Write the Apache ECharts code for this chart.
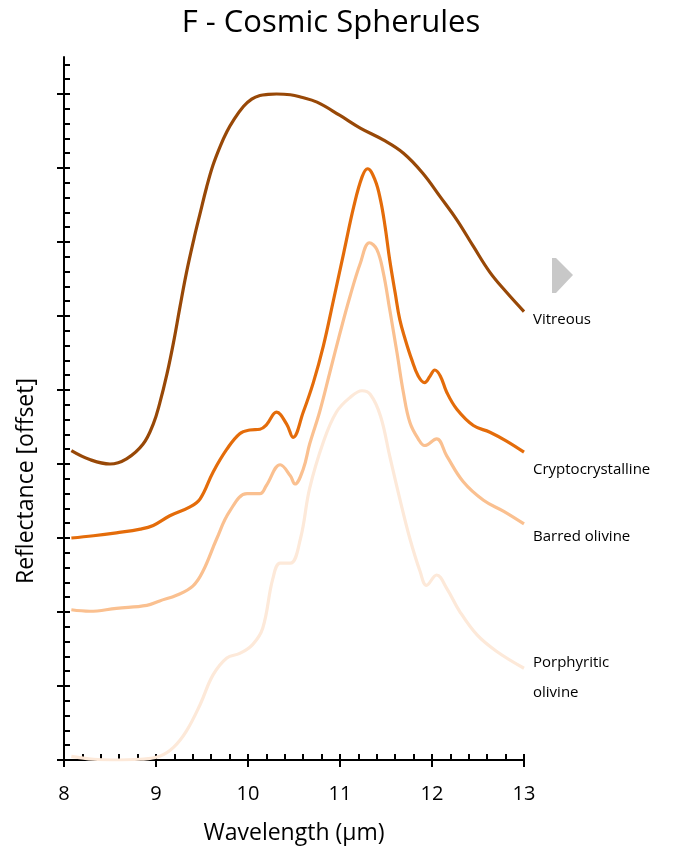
<!DOCTYPE html>
<html>
<head>
<meta charset="utf-8">
<script src="https://cdn.jsdelivr.net/npm/echarts@6/dist/echarts.min.js"></script>
<style>
html,body{margin:0;padding:0;background:#fff;}
#chart{width:697px;height:850px;}
</style>
</head>
<body>
<div id="chart"></div>
<script>
// Wavelength (µm) vs reflectance (offset) for each spherule type
const vitreous = [[8.08,4.18],[8.28,4.06],[8.5,4.0],[8.68,4.07],[8.86,4.27],[8.97,4.54],[9.04,4.82],[9.12,5.22],[9.19,5.64],[9.26,6.12],[9.33,6.58],[9.41,7.03],[9.48,7.39],[9.55,7.74],[9.62,8.04],[9.7,8.3],[9.77,8.49],[9.84,8.64],[9.95,8.83],[10.04,8.93],[10.13,8.98],[10.22,8.995],[10.31,9.0],[10.46,8.99],[10.57,8.96],[10.75,8.89],[11.0,8.71],[11.22,8.54],[11.47,8.38],[11.69,8.2],[11.9,7.93],[12.09,7.61],[12.27,7.3],[12.45,6.94],[12.63,6.59],[12.81,6.32],[13.0,6.06]];
const cryptocrystalline = [[8.08,3.0],[8.32,3.03],[8.57,3.07],[8.83,3.12],[8.97,3.17],[9.15,3.3],[9.37,3.42],[9.48,3.53],[9.62,3.89],[9.77,4.2],[9.91,4.41],[10.02,4.46],[10.13,4.47],[10.2,4.53],[10.31,4.7],[10.42,4.54],[10.49,4.36],[10.6,4.7],[10.71,5.1],[10.82,5.6],[10.93,6.22],[11.04,6.85],[11.15,7.48],[11.24,7.88],[11.3,7.99],[11.38,7.84],[11.44,7.57],[11.49,7.21],[11.54,6.76],[11.6,6.31],[11.65,5.95],[11.71,5.68],[11.78,5.41],[11.85,5.19],[11.92,5.1],[11.98,5.19],[12.03,5.27],[12.09,5.19],[12.16,4.97],[12.27,4.74],[12.45,4.52],[12.63,4.43],[12.81,4.31],[13.0,4.16]];
const barredOlivine = [[8.08,2.03],[8.28,2.01],[8.57,2.05],[8.9,2.09],[9.04,2.15],[9.23,2.23],[9.4,2.35],[9.51,2.55],[9.66,2.99],[9.8,3.36],[9.99,3.6],[10.13,3.6],[10.2,3.71],[10.35,3.99],[10.46,3.84],[10.51,3.73],[10.6,3.93],[10.67,4.27],[10.78,4.71],[10.89,5.24],[11.0,5.77],[11.11,6.27],[11.22,6.71],[11.32,6.99],[11.4,6.9],[11.47,6.59],[11.54,6.09],[11.62,5.5],[11.69,4.96],[11.76,4.56],[11.85,4.34],[11.92,4.25],[12.05,4.34],[12.16,4.11],[12.34,3.76],[12.56,3.51],[12.78,3.36],[13.0,3.19]];
const porphyriticOlivine = [[8.08,0.05],[8.32,0.01],[8.53,0.0],[8.83,0.01],[9.04,0.05],[9.19,0.17],[9.33,0.39],[9.48,0.75],[9.62,1.15],[9.77,1.38],[9.91,1.44],[10.05,1.56],[10.16,1.78],[10.27,2.45],[10.35,2.66],[10.46,2.66],[10.57,2.99],[10.67,3.67],[10.82,4.3],[10.96,4.7],[11.11,4.9],[11.24,4.99],[11.33,4.94],[11.44,4.65],[11.54,4.11],[11.65,3.53],[11.76,2.99],[11.87,2.55],[11.94,2.36],[12.05,2.5],[12.16,2.32],[12.3,2.01],[12.49,1.69],[12.7,1.47],[13.0,1.24]];

const seriesNames = ['Vitreous','Cryptocrystalline','Barred olivine','Porphyritic olivine'];
const seriesLabels = ['Vitreous','Cryptocrystalline','Barred olivine','Porphyritic\nolivine'];
const seriesColors = ['#984807','#E46C0A','#FAC090','#FDE9D9'];
const xTicks = [8,9,10,11,12,13];
const yMajorTicks = [0,1,2,3,4,5,6,7,8,9];
const yMinorTicks = [0,0.2,0.4,0.6,0.8,1,1.2,1.4,1.6,1.8,2,2.2,2.4,2.6,2.8,3,3.2,3.4,3.6,3.8,4,4.2,4.4,4.6,4.8,5,5.2,5.4,5.6,5.8,6,6.2,6.4,6.6,6.8,7,7.2,7.4,7.6,7.8,8,8.2,8.4,8.6,8.8,9,9.2,9.4];

const FONT = '"Open Sans", "Noto Sans", sans-serif';
const allData = [vitreous, cryptocrystalline, barredOlivine, porphyriticOlivine];
const chart = echarts.init(document.getElementById('chart'));

const option = {
  animation:false,
  backgroundColor:'#fff',
  title:{text:'F - Cosmic Spherules', left:326, top:3, textAlign:'center',
    textStyle:{fontFamily:FONT, fontSize:31, fontWeight:'normal', color:'#000'}},
  grid:{left:64, right:173, top:57, bottom:88, containLabel:false},
  xAxis:[
    {type:'value', min:xTicks[0], max:xTicks[xTicks.length-1], interval:1,
     axisLine:{lineStyle:{color:'#000', width:2}},
     axisTick:{show:true, inside:false, length:7, lineStyle:{color:'#000', width:2}},
     axisLabel:{show:true, margin:24, fontFamily:FONT, fontSize:20, color:'#000'},
     splitLine:{show:false},
     name:'Wavelength (µm)', nameLocation:'middle', nameGap:62,
     nameTextStyle:{fontFamily:FONT, fontSize:23, color:'#000'}},
    {type:'value', min:xTicks[0], max:xTicks[xTicks.length-1], interval:1, position:'bottom',
     axisLine:{show:false}, axisTick:{show:true, inside:true, length:6, lineStyle:{color:'#000', width:2}},
     minorTick:{show:true, splitNumber:5, length:6, lineStyle:{color:'#000', width:2}},
     axisLabel:{show:false}, splitLine:{show:false}}
  ],
  yAxis:[
    {type:'value', min:0, max:9.5, position:'left',
     axisLine:{show:true, lineStyle:{color:'#000', width:2}},
     axisTick:{show:true, inside:false, length:7, customValues:yMajorTicks, lineStyle:{color:'#000', width:2}},
     axisLabel:{show:false}, splitLine:{show:false}},
    {type:'value', min:0, max:9.5, position:'left', offset:0,
     axisLine:{show:false},
     axisTick:{show:true, inside:true, length:6, customValues:yMinorTicks, lineStyle:{color:'#000', width:2}},
     axisLabel:{show:false}, splitLine:{show:false}}
  ],
  graphic:[
    {type:'text', rotation:Math.PI/2, position:[26,481], silent:true,
     style:{text:'Reflectance [offset]', x:0, y:0, align:'center', verticalAlign:'middle',
       fontFamily:FONT, fontSize:23, fill:'#000'}},
    {type:'text', position:[533,320], silent:true, style:{text:seriesLabels[0], align:'left', verticalAlign:'middle', fontFamily:FONT, fontSize:15, fill:'#000'}},
    {type:'text', position:[533,470], silent:true, style:{text:seriesLabels[1], align:'left', verticalAlign:'middle', fontFamily:FONT, fontSize:15, fill:'#000'}},
    {type:'text', position:[533,537], silent:true, style:{text:seriesLabels[2], align:'left', verticalAlign:'middle', fontFamily:FONT, fontSize:15, fill:'#000'}},
    {type:'text', position:[533,678], silent:true, style:{text:seriesLabels[3], align:'left', verticalAlign:'middle', lineHeight:30, fontFamily:FONT, fontSize:15, fill:'#000'}},
    {type:'polygon', silent:true, shape:{points:[[552,258],[556,258],[573,275],[556,293],[552,293]]}, style:{fill:'#C8C8C8'}}
  ],
  series: allData.map((d,i)=>({
    name:seriesNames[i], type:'line', data:d, xAxisIndex:0, yAxisIndex:0,
    smooth:0.4, symbol:'none', z:10-i,
    lineStyle:{color:seriesColors[i], width:3.2}
  }))
};
chart.setOption(option);
</script>
</body>
</html>
